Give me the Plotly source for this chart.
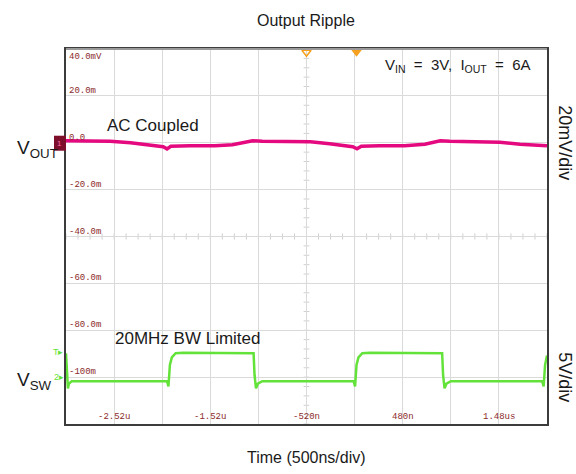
import plotly.graph_objects as go

# ---- data (time in microseconds) ----
vout_t = [-3.02, -2.77, -2.56, -2.35, -2.15, -2.01, -1.97, -1.93, -1.73, -1.47, -1.29, -1.16,
          -1.08, -0.98, -0.69, -0.48, -0.28, -0.12, -0.04, 0.005, 0.05, 0.24, 0.50, 0.71,
          0.82, 0.87, 0.97, 1.28, 1.49, 1.70, 1.91, 1.98]
vout_mv = [0.85, 0.85, 0.6, 0.0, -1.1, -1.7, -2.6, -1.5, -1.3, -1.3, -0.85, 0.2,
           0.85, 0.6, 0.4, 0.4, -0.4, -1.1, -1.7, -2.6, -1.5, -1.3, -1.3, -0.6,
           0.2, 0.85, 0.6, 0.4, 0.2, -0.6, -1.3, -1.3]

vsw_t = [-3.02, -3.01, -3.00, -2.99, -2.96, -1.97, -1.955, -1.94, -1.92, -1.88, -1.80,
         -1.07, -1.06, -1.045, -1.025, -0.98, -0.03, -0.015, 0.0, 0.02, 0.06, 0.14,
         0.89, 0.90, 0.915, 0.935, 0.98, 1.93, 1.945, 1.96, 1.98]
vsw_v = [2.55, 0.5, -1.2, -0.7, -0.43, -0.43, -1.0, 1.3, 2.1, 2.55, 2.6,
         2.55, 0.2, -1.2, -0.7, -0.43, -0.43, -1.0, 1.3, 2.1, 2.55, 2.6,
         2.55, 0.2, -1.2, -0.7, -0.43, -0.43, -1.0, 1.3, 2.3]

ylab_vals = [40, 20, 0, -20, -40, -60, -80, -100]
ylab_text = ["40.0mV", "20.0m", "0.0", "-20.0m", "-40.0m", "-60.0m", "-80.0m", "-100m"]
xlab_vals = [-2.52, -1.52, -0.52, 0.48, 1.48]
xlab_text = ["-2.52u", "-1.52u", "-520n", "480n", "1.48us"]

X_RANGE = [-3.02, 1.98]
Y_RANGE = [-120, 40]
Y2_RANGE = [-5, 35]

PINK = "#e5097f"
GREEN = "#63e23a"
ORANGE = "#f5a01e"
LABEL_RED = "#8b2a2a"
GRID = "#dadada"
FONT = "Liberation Sans, Arial, sans-serif"
MONO = "Liberation Mono, DejaVu Sans Mono, monospace"

fig = go.Figure()
fig.add_trace(go.Scatter(x=vout_t, y=vout_mv, mode="lines", yaxis="y",
                         line=dict(color=PINK, width=3.5), hoverinfo="skip"))
fig.add_trace(go.Scatter(x=vsw_t, y=vsw_v, mode="lines", yaxis="y2",
                         line=dict(color=GREEN, width=2.5), hoverinfo="skip"))
# trigger / reference markers at top
fig.add_trace(go.Scatter(x=[-0.52], y=[38.6], mode="markers", cliponaxis=False,
                         marker=dict(symbol="triangle-down-open", size=8, color=ORANGE,
                                     line=dict(width=1.5, color=ORANGE))))
fig.add_trace(go.Scatter(x=[0.0], y=[38.6], mode="markers", cliponaxis=False,
                         marker=dict(symbol="triangle-down", size=9, color=ORANGE)))

shapes = []
# minor ticks along centre lines
xc = (X_RANGE[0] + X_RANGE[1]) / 2
yc = (Y_RANGE[0] + Y_RANGE[1]) / 2
xdiv = (X_RANGE[1] - X_RANGE[0]) / 10
ydiv = (Y_RANGE[1] - Y_RANGE[0]) / 8
for i in range(41):
    xv = X_RANGE[0] + i * xdiv / 4
    shapes.append(dict(type="line", xref="x", yref="y", x0=xv, x1=xv, y0=yc - 1.3, y1=yc + 1.3,
                       line=dict(color="#d0d0d0", width=1), layer="below"))
for i in range(41):
    yv = Y_RANGE[0] + i * ydiv / 5
    shapes.append(dict(type="line", xref="x", yref="y", x0=xc - 0.03, x1=xc + 0.03, y0=yv, y1=yv,
                       line=dict(color="#d0d0d0", width=1), layer="below"))
# top border lighter
shapes.append(dict(type="line", xref="paper", yref="paper", x0=0, x1=1, y0=1, y1=1,
                   line=dict(color="#9a9a9a", width=2)))
# channel 1 marker box
shapes.append(dict(type="rect", xref="paper", yref="y", x0=-0.025, x1=0, y0=-3.4, y1=3.0,
                   fillcolor="#7d0f2b", line=dict(width=0)))

ann = []
for v, t in zip(ylab_vals, ylab_text):
    ann.append(dict(x=0, xref="paper", y=v, yref="y", text=t, showarrow=False,
                    xanchor="left", yanchor="top" if v == Y_RANGE[1] else "bottom",
                    xshift=1, yshift=-1 if v == Y_RANGE[1] else -2,
                    font=dict(family=MONO, size=9, color=LABEL_RED)))
for v, t in zip(xlab_vals, xlab_text):
    ann.append(dict(x=v, xref="x", y=0, yref="paper", text=t, showarrow=False,
                    xanchor="center", yanchor="bottom", yshift=0,
                    font=dict(family=MONO, size=9, color=LABEL_RED)))

def txt(x, y, s, size=17, angle=0, xanchor="center", color="#1a1a1a"):
    ann.append(dict(x=x, y=y, xref="paper", yref="paper", text=s, showarrow=False,
                    xanchor=xanchor, yanchor="middle", textangle=angle,
                    font=dict(family=FONT, size=size, color=color)))

nb = "\u00a0"
txt(0.499, 1.077, "Output Ripple", 16)
txt(0.499, -0.088, "Time (500ns/div)", 16)
txt(0.971, 0.957, f"V<sub>IN</sub>{nb} ={nb} 3V,{nb} I<sub>OUT</sub>{nb} ={nb} 6A", 15, xanchor="right")
txt(0.18, 0.795, "AC Coupled", 17)
txt(0.2516, 0.2267, "20MHz BW Limited", 17)
txt(-0.06, 0.733, "V<sub>OUT</sub>", 19)
txt(-0.066, 0.115, "V<sub>SW</sub>", 19)
txt(1.037, 0.749, "20mV/div", 18, angle=90)
txt(1.037, 0.125, "5V/div", 18, angle=90)
# channel markers
txt(-0.0125, 0.748, "1", 8, color="#ff66b0")
ann.append(dict(x=0, y=(424 - 352) / 375, xref="paper", yref="paper", text="T\u25b8", showarrow=False,
                xanchor="right", yanchor="middle", font=dict(family=FONT, size=9, color=GREEN)))
ann.append(dict(x=0, y=(424 - 377) / 375, xref="paper", yref="paper", text="2\u25b8", showarrow=False,
                xanchor="right", yanchor="middle", font=dict(family=FONT, size=9, color=GREEN)))

fig.update_layout(
    width=576, height=474,
    margin=dict(l=66, r=29, t=49, b=50),
    plot_bgcolor="white", paper_bgcolor="white",
    showlegend=False,
    xaxis=dict(range=X_RANGE, tick0=X_RANGE[0], dtick=0.5, showgrid=True, gridcolor=GRID,
               gridwidth=1, showticklabels=False, ticks="", zeroline=False,
               showline=True, mirror=True, linecolor="#3c3c3c", linewidth=2),
    yaxis=dict(range=Y_RANGE, tick0=0, dtick=20, showgrid=True, gridcolor=GRID,
               gridwidth=1, showticklabels=False, ticks="", zeroline=False,
               showline=True, mirror=True, linecolor="#3c3c3c", linewidth=2),
    yaxis2=dict(range=Y2_RANGE, overlaying="y", visible=False),
    shapes=shapes,
    annotations=ann,
)

fig.write_html("out.html")
